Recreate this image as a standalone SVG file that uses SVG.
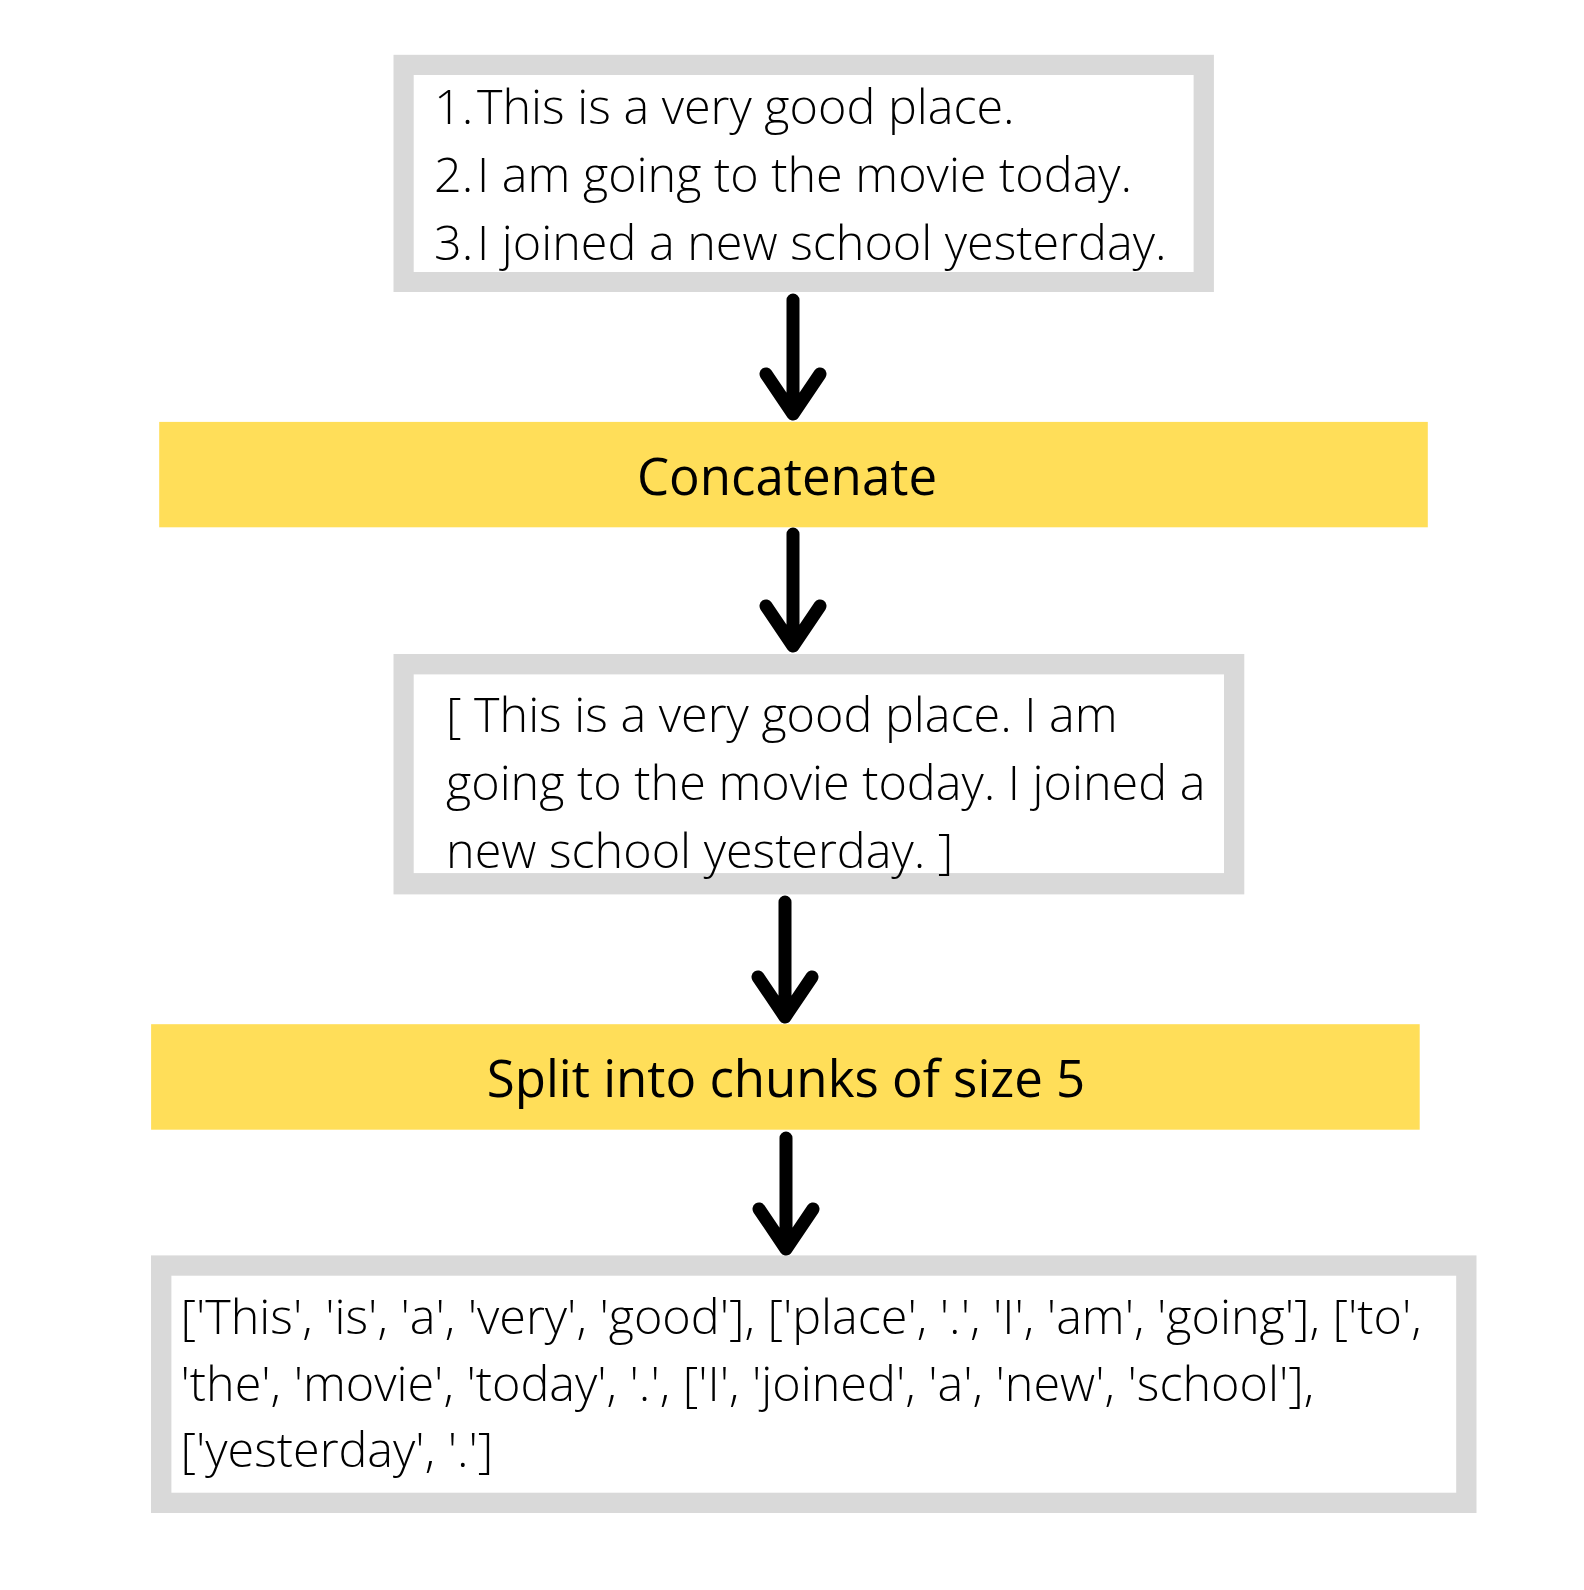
<svg xmlns="http://www.w3.org/2000/svg" width="1584" height="1590" viewBox="0 0 1584 1590">
<style>
.frame{fill:#d9d9d9}
.inner{fill:#ffffff}
.step{fill:#ffde59}
.body{font-family:"Open Sans","Liberation Sans",sans-serif;font-weight:300;font-size:48.5px;fill:#000}
.label{font-family:"Open Sans","Liberation Sans",sans-serif;font-weight:400;font-size:51px;fill:#000;text-anchor:middle}
.arrow{fill:none;stroke:#000;stroke-width:13;stroke-linecap:round;stroke-linejoin:round}
</style>
<rect width="1584" height="1590" fill="#ffffff"/>
<g id="sentences">
<rect class="frame" x="393.5" y="54.8" width="820.4" height="237.2"/>
<rect class="inner" x="413.7" y="75" width="779.9" height="197"/>
<text class="body" y="124"><tspan x="434">1.</tspan><tspan x="477">This is a very good place.</tspan></text>
<text class="body" y="192"><tspan x="434">2.</tspan><tspan x="477">I am going to the movie today.</tspan></text>
<text class="body" y="260"><tspan x="434">3.</tspan><tspan x="477">I joined a new school yesterday.</tspan></text>
</g>
<g id="concatenate">
<rect class="step" x="159.2" y="421.9" width="1268.6" height="105.4"/>
<text class="label" x="787" y="495">Concatenate</text>
</g>
<g id="joined">
<rect class="frame" x="393.5" y="654" width="850.8" height="240.4"/>
<rect class="inner" x="413.7" y="674.4" width="810.3" height="198.7"/>
<text class="body" x="446" y="732">[ This is a very good place. I am</text>
<text class="body" x="446" y="800">going to the movie today. I joined a</text>
<text class="body" x="446" y="868">new school yesterday. ]</text>
</g>
<g id="split">
<rect class="step" x="151.1" y="1024.2" width="1268.6" height="105.5"/>
<text class="label" x="786" y="1097">Split into chunks of size 5</text>
</g>
<g id="chunks">
<rect class="frame" x="151" y="1255.4" width="1325.5" height="257.6"/>
<rect class="inner" x="171.4" y="1275.7" width="1284.8" height="217"/>
<text class="body" x="180.5" y="1333.5">['This', 'is', 'a', 'very', 'good'], ['place', '.', 'I', 'am', 'going'], ['to',</text>
<text class="body" x="180.5" y="1400.5">'the', 'movie', 'today', '.', ['I', 'joined', 'a', 'new', 'school'],</text>
<text class="body" x="180.5" y="1467.4">['yesterday', '.']</text>
</g>
<g id="connectors">
<path class="arrow" d="M793,300 V414 M766,374 L793,414 L820,374"/>
<path class="arrow" d="M793,534 V646 M766,606 L793,646 L820,606"/>
<path class="arrow" d="M785,902 V1017 M758,977 L785,1017 L812,977"/>
<path class="arrow" d="M786,1138 V1249 M759,1209 L786,1249 L813,1209"/>
</g>
</svg>
